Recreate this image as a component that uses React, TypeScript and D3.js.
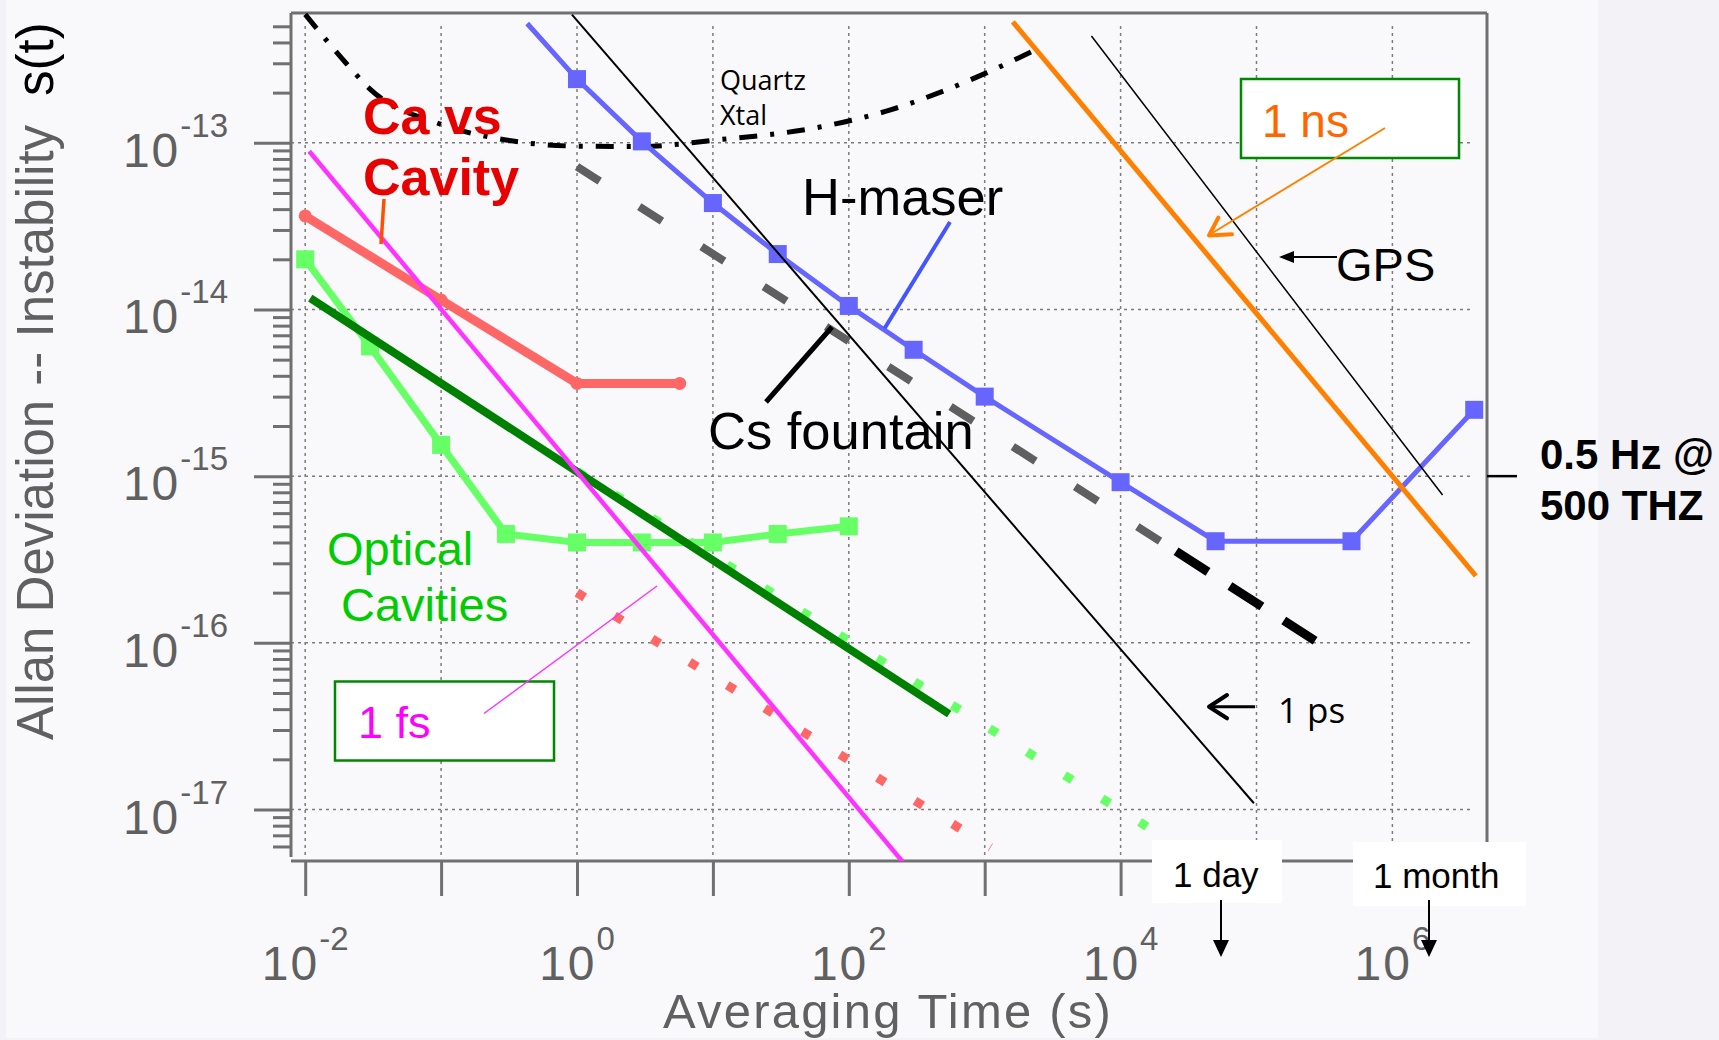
import React, { useEffect, useRef } from "react";
import * as d3 from "d3";

// ---- axis ticks ----
const xTickDecades = [1e-2, 1e-1, 1e0, 1e1, 1e2, 1e3, 1e4, 1e5, 1e6];
const xLabelPowers = ["-2", "0", "2", "4", "6"];
const yTickDecades = [1e-13, 1e-14, 1e-15, 1e-16, 1e-17];
const yLabelPowers = ["-13", "-14", "-15", "-16", "-17"];

// ---- series (tau in s, sigma) ----
const maserTau = [0.43, 1, 3, 10, 30, 100, 300, 1000, 1e4, 5e4, 5e5, 4e6];
const maserSigma = [5.2e-13, 2.41e-13, 1.02e-13, 4.35e-14, 2.15e-14, 1.05e-14, 5.73e-15, 3.0e-15, 9.2e-16, 4.07e-16, 4.07e-16, 2.5e-15];

const csTau = [1, 2.02e4];
const csSigma = [7.2e-14, 4.0e-16];
const csLateTau = [2.56e4, 2.7e5];
const csLateSigma = [3.54e-16, 1.03e-16];

const quartzTau = [0.01, 0.02, 0.03, 0.1, 0.3, 1, 3, 10, 60, 200, 500, 1000, 2300];
const quartzSigma = [5.9e-13, 3.0e-13, 2.1e-13, 1.29e-13, 1.04e-13, 9.55e-14, 9.5e-14, 1.035e-13, 1.24e-13, 1.57e-13, 2.05e-13, 2.6e-13, 3.57e-13];

const psTau = [0.918, 9.57e4];
const psSigma = [5.87e-13, 1.09e-17];
const gpsTau = [6.1e3, 2.34e6];
const gpsSigma = [4.37e-13, 7.7e-16];
const nsTau = [1.61e3, 4.11e6];
const nsSigma = [5.32e-13, 2.52e-16];
const fsTau = [0.0107, 256];
const fsSigma = [8.9e-14, 4.73e-18];

const caTau = [0.01, 0.1, 1, 5.7];
const caSigma = [3.64e-14, 1.14e-14, 3.6e-15, 3.6e-15];

const cavTau = [0.01, 0.03, 0.1, 0.3, 1, 3, 10, 30, 100];
const cavSigma = [2.0e-14, 6.0e-15, 1.54e-15, 4.5e-16, 4.0e-16, 4.0e-16, 4.0e-16, 4.5e-16, 5.0e-16];

const cavFitTau = [0.0109, 548];
const cavFitSigma = [1.17e-14, 3.74e-17];
const cavDotTau = [1.0, 1.56e4];
const cavDotSigma = [1.07e-15, 7.9e-18];
const caDotTau = [1.0, 1.105e3];
const caDotSigma = [2.0e-16, 5.93e-18];

const W = 1719;
const H = 1040;
const frame = { left: 291, right: 1487, top: 13, bottom: 861 };
const AXIS = "#707070";
const LABEL = "#606060";
const SANS = "'Liberation Sans', Arial, Helvetica, sans-serif";
const SOFT = "'Open Sans', 'Noto Sans', sans-serif";

const x = d3.scaleLog().domain([1e-2, 1e6]).range([305.2, 1392.4]);
const y = d3.scaleLog().domain([1e-17, 1e-13]).range([809.5, 142.8]);

const zip = (t: number[], s: number[]): [number, number][] => t.map((v, i) => [v, s[i]]);
const line = d3
  .line<[number, number]>()
  .x((d) => x(d[0]))
  .y((d) => y(d[1]));
const smooth = d3
  .line<[number, number]>()
  .x((d) => x(d[0]))
  .y((d) => y(d[1]))
  .curve(d3.curveMonotoneX);

const App = () => {
  const yMajorRef = useRef<SVGGElement>(null);
  const yMinorRef = useRef<SVGGElement>(null);
  const xTickRef = useRef<SVGGElement>(null);

  useEffect(() => {
    const tidy = (g: any) => {
      g.select(".domain").remove();
      g.selectAll(".tick text").remove();
      g.selectAll(".tick line").attr("stroke", AXIS).attr("stroke-width", 3);
    };
    const minor = y
      .copy()
      .domain([5.2e-18, 5.9e-13])
      .ticks()
      .filter((v) => !yTickDecades.some((m) => Math.abs(v / m - 1) < 1e-6));

    d3.select(yMajorRef.current)
      .call(d3.axisLeft(y).tickValues(yTickDecades).tickSize(37).tickFormat(() => "") as any)
      .call(tidy);
    d3.select(yMinorRef.current)
      .call(d3.axisLeft(y).tickValues(minor).tickSize(18).tickFormat(() => "") as any)
      .call(tidy);
    d3.select(xTickRef.current)
      .call(d3.axisBottom(x).tickValues(xTickDecades).tickSize(35).tickFormat(() => "") as any)
      .call(tidy);
  }, []);

  const maser = zip(maserTau, maserSigma);
  const cav = zip(cavTau, cavSigma);
  const ca = zip(caTau, caSigma);

  return (
    <svg width={W} height={H} style={{ position: "absolute", left: 0, top: 0 }}>
      <defs>
        <clipPath id="plot">
          <rect x={frame.left} y={frame.top} width={frame.right - frame.left} height={frame.bottom - frame.top} />
        </clipPath>
      </defs>
      <rect width={W} height={H} fill="#f3f2f6" />
      <rect x={6} y={0} width={1592} height={1038} fill="#f9f9fb" />

      {/* grid */}
      <g stroke="#7c7c7c" strokeWidth={1.5} strokeDasharray="3 4">
        {xTickDecades.map((v) => (
          <line key={"gx" + v} x1={x(v)} x2={x(v)} y1={26} y2={857} />
        ))}
        {yTickDecades.map((v) => (
          <line key={"gy" + v} x1={frame.left} x2={1473} y1={y(v)} y2={y(v)} />
        ))}
      </g>

      {/* frame */}
      <g stroke={AXIS} strokeWidth={3}>
        <line x1={frame.left} x2={frame.right} y1={frame.top} y2={frame.top} />
        <line x1={frame.right} x2={frame.right} y1={frame.top} y2={frame.bottom - 18} />
        <line x1={frame.left} x2={frame.left} y1={frame.top} y2={frame.bottom - 4} />
        <line x1={frame.left} x2={frame.right} y1={frame.bottom} y2={frame.bottom} />
      </g>
      <g ref={yMajorRef} transform={`translate(${frame.left},0)`} />
      <g ref={yMinorRef} transform={`translate(${frame.left},0)`} />
      <g ref={xTickRef} transform={`translate(0,${frame.bottom})`} />

      {/* tick labels */}
      <g fill={LABEL} fontFamily={SANS}>
        {yTickDecades.map((v, i) => (
          <text key={"yl" + v} x={228} y={y(v) + 24} textAnchor="end" fontSize={48} letterSpacing={2}>
            10<tspan dy={-30} fontSize={33} letterSpacing={0}>{yLabelPowers[i]}</tspan>
          </text>
        ))}
        {xLabelPowers.map((p) => (
          <text key={"xl" + p} x={x(Math.pow(10, +p))} y={980} textAnchor="middle" fontSize={48} letterSpacing={2}>
            10<tspan dy={-30} fontSize={33} letterSpacing={0}>{p}</tspan>
          </text>
        ))}
        <text x={888} y={1028} textAnchor="middle" fontSize={49} letterSpacing={2.2}>
          Averaging Time (s)
        </text>
        <text transform="translate(53,740) rotate(-90)" fontSize={51}>
          Allan Deviation -- Instability
          <tspan dx={29} fill="#000">s(t)</tspan>
        </text>
      </g>

      {/* series */}
      <g clipPath="url(#plot)" fill="none">
        <path d={line(zip(csTau, csSigma)) ?? ""} stroke="#5f5f5f" strokeWidth={8} strokeDasharray="27 47" />
        <path d={line(zip(csLateTau, csLateSigma)) ?? ""} stroke="#000" strokeWidth={9} strokeDasharray="38 26" />
        <path d={smooth(zip(quartzTau, quartzSigma)) ?? ""} stroke="#000" strokeWidth={5} strokeDasharray="18 13 4 13" />
        <path d={line(maser) ?? ""} stroke="#6666ff" strokeWidth={5} />
        {maser.slice(1).map((d, i) => (
          <rect key={"m" + i} x={x(d[0]) - 9} y={y(d[1]) - 9} width={18} height={18} fill="#6666ff" />
        ))}
        <path d={line(ca) ?? ""} stroke="#ff6666" strokeWidth={9} strokeLinejoin="round" />
        {ca.map((d, i) => (
          <circle key={"c" + i} cx={x(d[0])} cy={y(d[1])} r={6.5} fill="#ff6666" />
        ))}
        <path d={line(zip(cavDotTau, cavDotSigma)) ?? ""} stroke="#66ff66" strokeWidth={9} strokeDasharray="9 35.2" />
        <path d={line(zip(caDotTau, caDotSigma)) ?? ""} stroke="#ff6666" strokeWidth={9} strokeDasharray="9 35.1" />
        <path d={line(cav) ?? ""} stroke="#66ff66" strokeWidth={7} />
        {cav.map((d, i) => (
          <rect key={"o" + i} x={x(d[0]) - 9} y={y(d[1]) - 9} width={18} height={18} fill="#66ff66" />
        ))}
        <path d={line(zip(cavFitTau, cavFitSigma)) ?? ""} stroke="#008000" strokeWidth={8} />
        <path d={line(zip(fsTau, fsSigma)) ?? ""} stroke="#ff33ff" strokeWidth={4.5} />
        <path d={line(zip(psTau, psSigma)) ?? ""} stroke="#000" strokeWidth={2} />
        <path d={line(zip(gpsTau, gpsSigma)) ?? ""} stroke="#000" strokeWidth={1.5} />
        <path d={line(zip(nsTau, nsSigma)) ?? ""} stroke="#ff8000" strokeWidth={5} />
      </g>

      {/* annotations */}
      <g fontFamily={SANS}>
        <text x={363} y={134} fontSize={52} fontWeight="bold" fill="#e60000">Ca vs</text>
        <text x={363} y={195} fontSize={52} fontWeight="bold" fill="#e60000">Cavity</text>
        <line x1={384} y1={199} x2={381} y2={244} stroke="#ff5000" strokeWidth={3.5} />

        <text x={720} y={90} fontSize={27} fontFamily={SOFT} fill="#000">Quartz</text>
        <text x={720} y={125} fontSize={27} fontFamily={SOFT} fill="#000">Xtal</text>

        <text x={802} y={215} fontSize={52.5} fill="#000">H-maser</text>
        <line x1={950} y1={222} x2={884.5} y2={328.5} stroke="#4455ff" strokeWidth={4} />

        <text x={708} y={449} fontSize={52.5} fill="#000">Cs fountain</text>
        <line x1={766} y1={402} x2={832} y2={327} stroke="#000" strokeWidth={5} />

        <rect x={1241} y={79} width={218} height={79} fill="#fff" stroke="#008800" strokeWidth={2.5} />
        <text x={1262} y={137} fontSize={46} fill="#ff6600">1 ns</text>
        <line x1={1385} y1={128} x2={1209} y2={235} stroke="#ff8000" strokeWidth={2} />
        <polyline points="1218.4,217.5 1209,235.5 1232,234.3" fill="none" stroke="#ff8000" strokeWidth={4} strokeLinecap="round" strokeLinejoin="round" />

        <text x={1336} y={281} fontSize={47} fill="#000">GPS</text>
        <line x1={1337} y1={257} x2={1290} y2={257} stroke="#000" strokeWidth={2} />
        <polygon points="1279,257 1294,251 1294,263" fill="#000" />

        <text x={1278} y={723} fontSize={35} fontFamily={SOFT} fill="#000">1 ps</text>
        <line x1={1255} y1={706.7} x2={1210} y2={706.7} stroke="#000" strokeWidth={3} />
        <polyline points="1227,695 1209,706.7 1227,718.3" fill="none" stroke="#000" strokeWidth={4} strokeLinecap="round" strokeLinejoin="round" />

        <text x={327} y={565} fontSize={47} fill="#00cc00">Optical</text>
        <text x={341} y={621} fontSize={47} fill="#00cc00">Cavities</text>

        <rect x={335} y={681.5} width={219} height={79} fill="#fff" stroke="#008800" strokeWidth={2.5} />
        <text x={358} y={738} fontSize={45} fill="#ff00ff">1 fs</text>
        <line x1={484} y1={713.5} x2={657} y2={586} stroke="#ff33ff" strokeWidth={1.5} />

        <line x1={frame.right} x2={1517} y1={y(1e-15)} y2={y(1e-15)} stroke="#000" strokeWidth={2.5} />
        <text x={1540} y={469} fontSize={42} fontWeight="bold" fill="#000">0.5 Hz @</text>
        <text x={1540} y={520} fontSize={42} fontWeight="bold" fill="#000">500 THZ</text>

        <rect x={1152} y={840} width={130} height={63} fill="#fff" />
        <text x={1173} y={887} fontSize={35} fill="#000">1 day</text>
        <rect x={1353} y={842} width={173} height={64} fill="#fff" />
        <text x={1373} y={888} fontSize={35} fill="#000">1 month</text>
        <line x1={1221} x2={1221} y1={900} y2={942} stroke="#000" strokeWidth={2} />
        <polygon points="1221,957 1213,940 1229,940" fill="#000" />
        <line x1={1429} x2={1429} y1={900} y2={942} stroke="#000" strokeWidth={2} />
        <polygon points="1429,957 1421,940 1437,940" fill="#000" />
      </g>
    </svg>
  );
};

export default App;
